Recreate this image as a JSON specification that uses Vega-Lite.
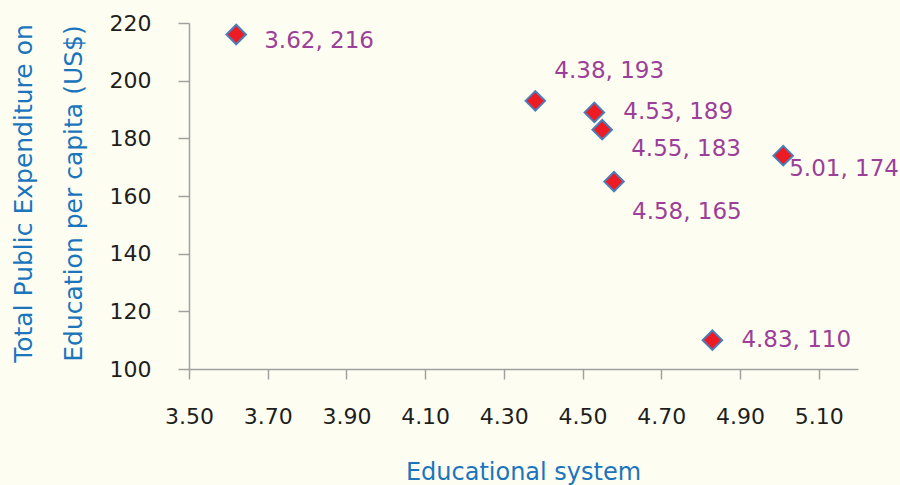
{
  "$schema": "https://vega.github.io/schema/vega-lite/v6.json",
  "width": 669,
  "height": 346,
  "autosize": {"type": "none"},
  "padding": {"left": 189, "top": 23, "right": 42, "bottom": 116},
  "background": "#FDFEF1",
  "config": {
    "view": {"stroke": null},
    "font": "DejaVu Sans",
    "axis": {
      "grid": false,
      "domainColor": "#A0A0A0",
      "domainWidth": 1.5,
      "tickColor": "#A0A0A0",
      "tickWidth": 1.5,
      "labelFont": "DejaVu Sans",
      "labelFontSize": 22,
      "labelColor": "#1E1E1E",
      "titleFont": "DejaVu Sans",
      "titleFontSize": 24,
      "titleFontWeight": "normal",
      "titleColor": "#1B75BC"
    }
  },
  "data": {
    "values": [
      {"edu": 3.62, "exp": 216, "label": "3.62, 216"},
      {"edu": 4.38, "exp": 193, "label": "4.38, 193"},
      {"edu": 4.53, "exp": 189, "label": "4.53, 189"},
      {"edu": 4.55, "exp": 183, "label": "4.55, 183"},
      {"edu": 4.58, "exp": 165, "label": "4.58, 165"},
      {"edu": 5.01, "exp": 174, "label": "5.01, 174"},
      {"edu": 4.83, "exp": 110, "label": "4.83, 110"}
    ]
  },
  "encoding": {
    "x": {
      "field": "edu",
      "type": "quantitative",
      "scale": {"domain": [3.5, 5.2], "nice": false, "zero": false},
      "axis": {
        "title": "Educational system",
        "values": [3.5, 3.7, 3.9, 4.1, 4.3, 4.5, 4.7, 4.9, 5.1],
        "format": ".2f",
        "tickSize": 10,
        "labelPadding": 44,
        "labelBaseline": "alphabetic",
        "labelFlush": false,
        "titleX": 334,
        "titleY": 110,
        "titleBaseline": "alphabetic",
        "titleAlign": "center"
      }
    },
    "y": {
      "field": "exp",
      "type": "quantitative",
      "scale": {"domain": [100, 220], "nice": false, "zero": false},
      "axis": {
        "title": ["Total Public Expenditure on", "Education per capita (US$)"],
        "values": [100, 120, 140, 160, 180, 200, 220],
        "tickSize": 11,
        "labelPadding": 27,
        "labelBaseline": "middle",
        "labelFlush": false,
        "titleX": -158,
        "titleY": 170,
        "titleAngle": 270,
        "titleFontSize": 25,
        "titleBaseline": "alphabetic",
        "titleAlign": "center",
        "titleLineHeight": 50
      }
    }
  },
  "layer": [
    {
      "mark": {"type": "point", "shape": "diamond", "filled": true, "fill": "#ED1C24", "stroke": "#4A7EBB", "strokeWidth": 2, "size": 380, "opacity": 1}
    },
    {
      "transform": [{"filter": "datum.edu == 3.62"}],
      "mark": {"type": "text", "align": "left", "baseline": "middle", "dx": 28, "dy": 6, "fontSize": 23, "color": "#9B3F99"},
      "encoding": {"text": {"field": "label"}}
    },
    {
      "transform": [{"filter": "datum.edu == 4.53 || datum.edu == 4.83"}],
      "mark": {"type": "text", "align": "left", "baseline": "middle", "dx": 29, "dy": 0, "fontSize": 23, "color": "#9B3F99"},
      "encoding": {"text": {"field": "label"}}
    },
    {
      "transform": [{"filter": "datum.edu == 4.55"}],
      "mark": {"type": "text", "align": "left", "baseline": "middle", "dx": 29, "dy": 19, "fontSize": 23, "color": "#9B3F99"},
      "encoding": {"text": {"field": "label"}}
    },
    {
      "transform": [{"filter": "datum.edu == 4.38"}],
      "mark": {"type": "text", "align": "left", "baseline": "middle", "dx": 19, "dy": -30, "fontSize": 23, "color": "#9B3F99"},
      "encoding": {"text": {"field": "label"}}
    },
    {
      "transform": [{"filter": "datum.edu == 4.58"}],
      "mark": {"type": "text", "align": "left", "baseline": "middle", "dx": 18, "dy": 30, "fontSize": 23, "color": "#9B3F99"},
      "encoding": {"text": {"field": "label"}}
    },
    {
      "transform": [{"filter": "datum.edu == 5.01"}],
      "mark": {"type": "text", "align": "left", "baseline": "middle", "dx": 6, "dy": 13, "fontSize": 23, "color": "#9B3F99"},
      "encoding": {"text": {"field": "label"}}
    }
  ]
}
